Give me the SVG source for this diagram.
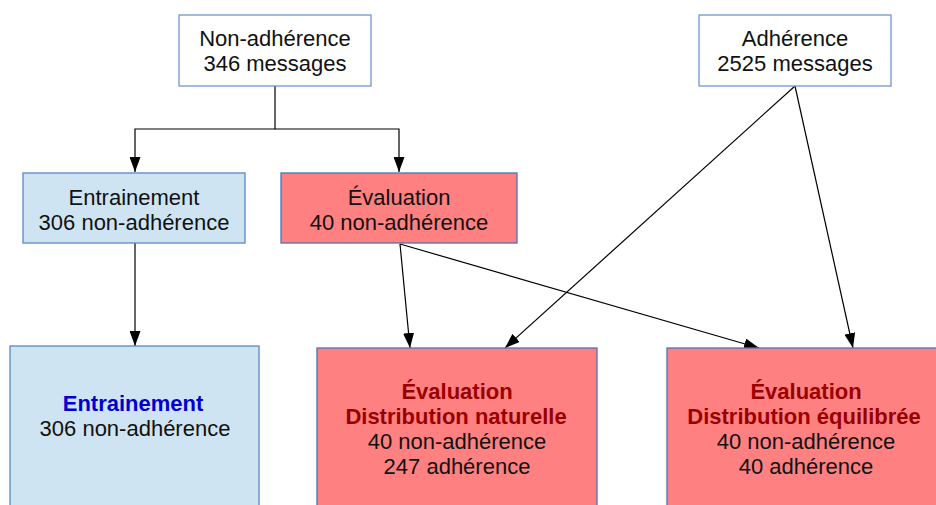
<svg xmlns="http://www.w3.org/2000/svg" width="936" height="505" viewBox="0 0 936 505">
<style>
text{font-family:"Liberation Sans",Arial,sans-serif;font-size:22px;fill:#111;text-anchor:middle}
.b{font-weight:bold}
.blue{fill:#0000cc}
.dred{fill:#990000}
.white{fill:#ffffff;stroke:#7196cf;stroke-width:1.3}
.lb{fill:#cfe4f2;stroke:#5b87c5;stroke-width:1.3}
.red{fill:#ff8080;stroke:#4a74b8;stroke-width:1.3}
.c{fill:none;stroke:#000;stroke-width:1.2}
</style>
<defs>
<marker id="ah" markerUnits="userSpaceOnUse" markerWidth="15" markerHeight="11" refX="15" refY="5.5" orient="auto">
<path d="M0,0 L15,5.5 L0,11 z" fill="#000"/>
</marker>
</defs>
<rect width="936" height="505" fill="#ffffff"/>
<g id="connectors">
<path class="c" d="M275,86 V129 H135 V172" marker-end="url(#ah)"/>
<path class="c" d="M275,129 H399 V172" marker-end="url(#ah)"/>
<path class="c" d="M135,243 V346" marker-end="url(#ah)"/>
<path class="c" d="M400,244 L410,348" marker-end="url(#ah)"/>
<path class="c" d="M400,244 L759,348" marker-end="url(#ah)"/>
<path class="c" d="M795,86 L505,348" marker-end="url(#ah)"/>
<path class="c" d="M795,86 L853,348" marker-end="url(#ah)"/>
</g>
<g id="non-adherence">
<rect class="white" x="179" y="15" width="192" height="71"/>
<text x="275" y="46">Non-adhérence</text>
<text x="275" y="71">346 messages</text>
</g>
<g id="adherence">
<rect class="white" x="699" y="15" width="192" height="71"/>
<text x="795" y="46">Adhérence</text>
<text x="795" y="71">2525 messages</text>
</g>
<g id="entrainement">
<rect class="lb" x="23" y="173" width="222" height="70"/>
<text x="134" y="205">Entrainement</text>
<text x="134" y="230">306 non-adhérence</text>
</g>
<g id="evaluation">
<rect class="red" x="281" y="173" width="236" height="70"/>
<text x="399" y="205">Évaluation</text>
<text x="399" y="230">40 non-adhérence</text>
</g>
<g id="entrainement-final">
<rect class="lb" x="10" y="346" width="249" height="170"/>
<text class="b blue" x="133" y="411">Entrainement</text>
<text x="135" y="436">306 non-adhérence</text>
</g>
<g id="evaluation-naturelle">
<rect class="red" x="317" y="348" width="280" height="170"/>
<text class="b dred" x="457" y="399">Évaluation</text>
<text class="b dred" x="456" y="424">Distribution naturelle</text>
<text x="457" y="449">40 non-adhérence</text>
<text x="457" y="474">247 adhérence</text>
</g>
<g id="evaluation-equilibree">
<rect class="red" x="667" y="348" width="280" height="170"/>
<text class="b dred" x="806" y="399">Évaluation</text>
<text class="b dred" x="804" y="424">Distribution équilibrée</text>
<text x="806" y="449">40 non-adhérence</text>
<text x="806" y="474">40 adhérence</text>
</g>
</svg>
